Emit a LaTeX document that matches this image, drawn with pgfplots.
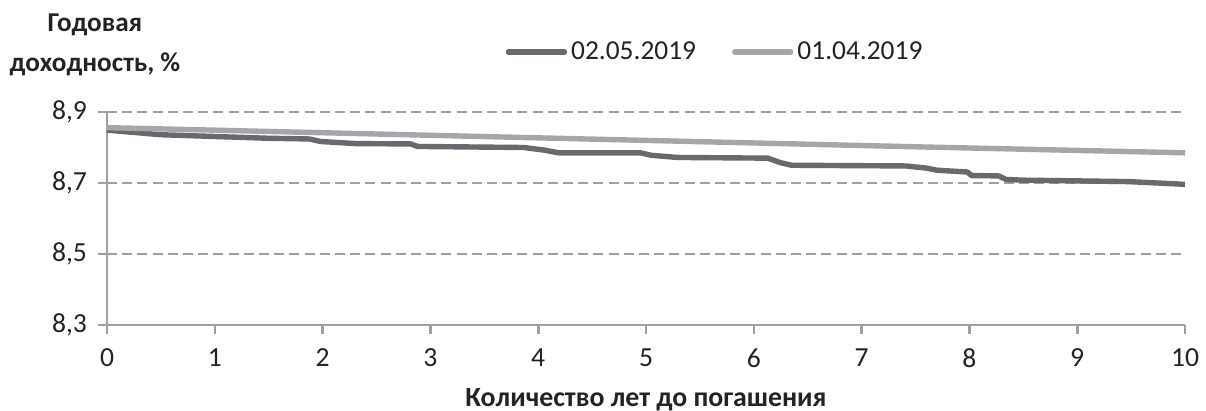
\documentclass[border=0pt]{standalone}
\usepackage{fontspec}
\setmainfont{Carlito}
\usepackage{pgfplots}
\pgfplotsset{compat=1.18}
\definecolor{darkline}{RGB}{104,104,110}
\definecolor{lightline}{RGB}{166,166,170}
\definecolor{gridc}{RGB}{160,160,160}
\definecolor{txt}{RGB}{35,35,35}
\begin{document}
\begin{tikzpicture}
\path[use as bounding box] (-53.5pt,-43pt) rectangle (549.5pt,162.5pt);
\begin{axis}[
  at={(0,0)}, anchor=south west,
  scale only axis, width=539pt, height=106.5pt,
  xmin=0, xmax=10, ymin=8.3, ymax=8.9,
  xtick={0,1,...,10}, ytick={8.3,8.5,8.7,8.9},
  axis x line*=bottom, axis y line*=left,
  axis line style={gridc, line width=1.3pt, -},
  tick style={gridc, line width=1.3pt},
  tick align=outside, major tick length=4.5pt,
  ymajorgrids,
  major grid style={gridc, line width=1.2pt, dash pattern=on 5pt off 2.6pt},
  ticklabel style={font=\fontsize{13.8}{16}\selectfont, text=txt},
  /pgf/number format/assume math mode=true,
  yticklabel style={/pgf/number format/.cd, fixed, fixed zerofill, precision=1, use comma},
  xticklabel style={/pgf/number format/.cd, fixed, precision=0},
  xticklabel shift=4pt, yticklabel shift=2pt,
  legend columns=2,
  legend style={at={(0.565,1.282)}, anchor=center, draw=none, fill=none,
    font=\fontsize{13.7}{16}\selectfont, text=txt,
    /tikz/every even column/.append style={column sep=16pt}},
  legend image code/.code={\draw[#1, line cap=round] (0pt,0pt) -- (28pt,0pt);},
  clip=false,
]
\addplot[darkline, line width=2.7pt, line join=round] coordinates {
(0,8.849) (0.5,8.836) (1.0,8.831) (1.5,8.826) (1.88,8.824) (1.98,8.817)
(2.31,8.811) (2.82,8.810) (2.88,8.803) (3.87,8.800) (3.94,8.797) (4.05,8.793)
(4.19,8.785) (4.95,8.785) (5.05,8.778) (5.29,8.772) (6.13,8.770) (6.25,8.757)
(6.35,8.750) (7.41,8.748) (7.6,8.742) (7.7,8.736) (7.98,8.731) (8.02,8.721)
(8.27,8.720) (8.34,8.710) (8.5,8.708) (9.47,8.704) (9.95,8.697) (10,8.696)
};
\addlegendentry{02.05.2019}
\addplot[lightline, line width=2.7pt] coordinates {
(0,8.856) (2.5,8.838) (5,8.820) (7.5,8.802) (10,8.785)
};
\addlegendentry{01.04.2019}
\end{axis}
\node[font=\bfseries\fontsize{13.6}{20}\selectfont, text=txt, align=center] at (-6pt,140pt) {Годовая\\доходность, \%};
\node[font=\bfseries\fontsize{13.9}{16}\selectfont, text=txt] at (269.5pt,-37.5pt) {Количество лет до погашения};
\end{tikzpicture}
\end{document}
